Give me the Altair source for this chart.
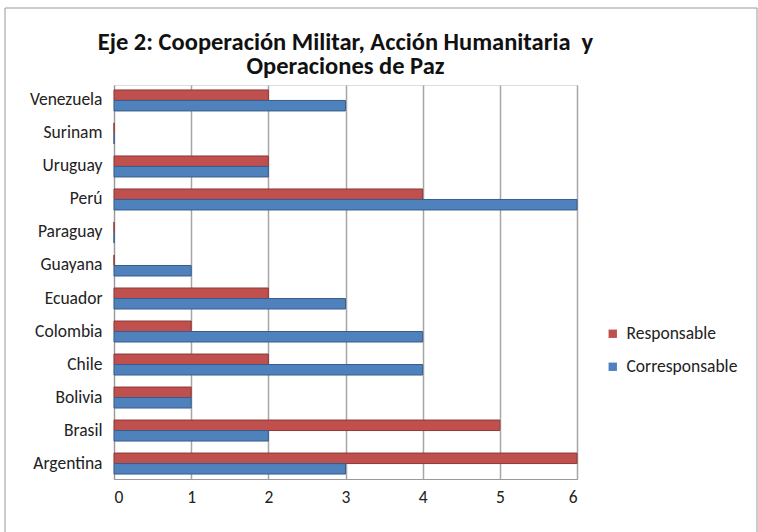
import altair as alt
import pandas as pd

# Countries from top to bottom of the chart
countries = ["Venezuela", "Surinam", "Uruguay", "Perú", "Paraguay", "Guayana",
             "Ecuador", "Colombia", "Chile", "Bolivia", "Brasil", "Argentina"]
responsable = [2, 0, 2, 4, 0, 0, 2, 1, 2, 1, 5, 6]
corresponsable = [3, 0, 2, 6, 0, 1, 3, 4, 4, 1, 2, 3]
series = ["Responsable", "Corresponsable"]
colors = ["#C0504D", "#4F81BD"]
edges = ["#8C3836", "#385D8A"]

rows = []
for i, c in enumerate(countries):
    rows.append({"pais": c, "serie": series[0], "valor": responsable[i], "orden": 0})
    rows.append({"pais": c, "serie": series[1], "valor": corresponsable[i], "orden": 1})
df = pd.DataFrame(rows)

FONT = "Carlito, Lato, sans-serif"
LABEL_SIZE = 17.5

bars = alt.Chart(df).mark_bar(strokeWidth=1).encode(
    y=alt.Y("pais:N", sort=countries, title=None,
            scale=alt.Scale(paddingInner=0.364, paddingOuter=0.15),
            axis=alt.Axis(ticks=False, domain=True, domainColor="#999999",
                          labelFontSize=LABEL_SIZE, labelColor="#222222",
                          labelPadding=12, labelFont=FONT)),
    x=alt.X("valor:Q", title=None,
            scale=alt.Scale(domain=[0, 6], nice=False),
            axis=alt.Axis(values=[0, 1, 2, 3, 4, 5, 6], format="d", ticks=False,
                          domainColor="#999999", grid=True, gridColor="#A6A6A6",
                          gridWidth=1.5, labelFontSize=LABEL_SIZE, labelColor="#222222",
                          labelPadding=9, labelFont=FONT)),
    yOffset=alt.YOffset("orden:O", sort=[0, 1]),
    color=alt.Color("serie:N", sort=series,
                    scale=alt.Scale(domain=series, range=colors),
                    legend=alt.Legend(title=None, orient="none", legendX=490,
                                      legendY=240, symbolType="square",
                                      symbolSize=70, symbolStrokeWidth=0,
                                      labelFontSize=LABEL_SIZE, labelColor="#222222",
                                      labelFont=FONT, rowPadding=14,
                                      labelOffset=5)),
    stroke=alt.Stroke("serie:N", sort=series,
                      scale=alt.Scale(domain=series, range=edges), legend=None),
)

# Outer chart frame
frame = alt.Chart(pd.DataFrame({"k": [0]})).mark_rect(
    fill=None, stroke="#9A9A9A", strokeWidth=1
).encode(x=alt.value(-109), x2=alt.value(643), y=alt.value(-77), y2=alt.value(460))

chart = alt.layer(frame, bars).properties(
    width=463, height=394,
    autosize=alt.AutoSizeParams(type="none"),
    padding={"left": 114, "top": 85, "right": 181, "bottom": 53},
    title=alt.TitleParams(
        ["Eje 2: Cooperación Militar, Acción Humanitaria\u00a0 y", "Operaciones de Paz"],
        anchor="middle", frame="group", fontSize=24.5, fontWeight="bold", font=FONT,
        color="#111111", offset=8, lineHeight=24, dy=80),
).configure_view(stroke=None).configure(background="white")

chart.save("out.html", embed_options={"renderer": "svg", "actions": False})
